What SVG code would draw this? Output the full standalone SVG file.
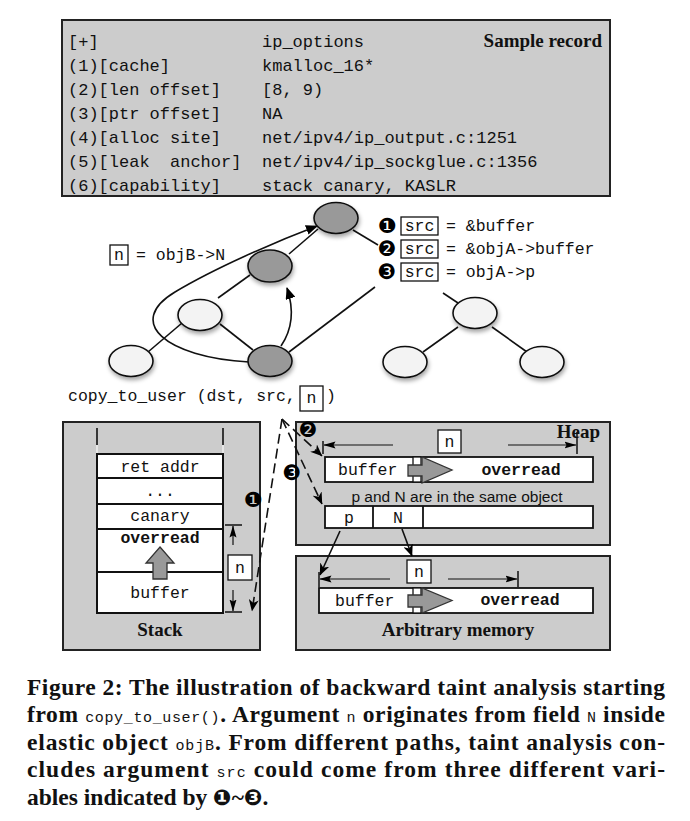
<svg xmlns="http://www.w3.org/2000/svg" width="690" height="821" viewBox="0 0 690 821">
<style>
.box{fill:#cccccc;stroke:#222;stroke-width:2}
.mono{font-family:"Liberation Mono","DejaVu Sans Mono",monospace;font-size:16.5px;fill:#111}
.monob{font-family:"Liberation Mono","DejaVu Sans Mono",monospace;font-size:16.5px;font-weight:bold;fill:#111}
.serifb{font-family:"Liberation Serif","DejaVu Serif",serif;font-weight:bold;fill:#111}
.num{font-family:"DejaVu Sans",sans-serif;font-size:21px;fill:#000}
.light{fill:#f3f3f3;stroke:#111;stroke-width:1.6}
.dark{fill:#999;stroke:#111;stroke-width:1.6}
.edge{stroke:#111;stroke-width:1.6;fill:none}
.cell{fill:#fff;stroke:#111;stroke-width:2}
.dash{stroke:#111;stroke-width:1.6;fill:none;stroke-dasharray:10 5}
.garrow{fill:#999;stroke:#333;stroke-width:1.3}
.lbl{fill:#fff;stroke:#111;stroke-width:1.3}
.cap{font-family:"Liberation Serif","DejaVu Serif",serif;font-weight:bold;font-size:23.5px;fill:#111}
.capc{font-family:"Liberation Mono","DejaVu Sans Mono",monospace;font-weight:normal;font-size:15px}
</style>
<defs>
<filter id="sh" x="-30%" y="-30%" width="160%" height="170%">
<feDropShadow dx="1" dy="3" stdDeviation="2" flood-color="#000" flood-opacity="0.35"/>
</filter>
<marker id="ah" viewBox="0 0 12 10" refX="11" refY="5" markerWidth="12" markerHeight="10" markerUnits="userSpaceOnUse" orient="auto">
<path d="M0,0 L12,5 L0,10 z" fill="#000"/>
</marker>
<marker id="bh" viewBox="0 0 12 10" refX="11.5" refY="5" markerWidth="12" markerHeight="10" markerUnits="userSpaceOnUse" orient="auto">
<path d="M0,0 L12,5 L0,10 L3.5,5 z" fill="#000"/>
</marker>
<marker id="mh" viewBox="0 0 12 8" refX="11.5" refY="4" markerWidth="12" markerHeight="8" markerUnits="userSpaceOnUse" orient="auto">
<path d="M0,0.5 L12,4 L0,7.5 L2,4 z" fill="#000"/>
</marker>
</defs>

<!-- Sample record -->
<g id="sample-record">
<rect class="box" x="62" y="20" width="548" height="176" fill="#cfcfcf"/>
<g class="mono" style="font-size:17px">
<text x="68" y="47">[+]</text>
<text x="262" y="47">ip_options</text>
<text x="68" y="71">(1)[cache]</text>
<text x="262" y="71">kmalloc_16*</text>
<text x="68" y="95">(2)[len offset]</text>
<text x="262" y="95">[8, 9)</text>
<text x="68" y="119">(3)[ptr offset]</text>
<text x="262" y="119">NA</text>
<text x="68" y="143">(4)[alloc site]</text>
<text x="262" y="143">net/ipv4/ip_output.c:1251</text>
<text x="68" y="167" xml:space="preserve">(5)[leak  anchor]</text>
<text x="262" y="167">net/ipv4/ip_sockglue.c:1356</text>
<text x="68" y="191">(6)[capability]</text>
<text x="262" y="191">stack canary, KASLR</text>
</g>
<text class="serifb" x="602" y="47" text-anchor="end" font-size="19">Sample record</text>
</g>

<!-- graph connectors -->
<g id="connectors">
<line class="edge" x1="318" y1="229" x2="289" y2="254"/>
<line class="edge" x1="250" y1="275" x2="218" y2="298"/>
<line class="edge" x1="182" y1="323" x2="148" y2="352"/>
<line class="edge" x1="220" y1="324" x2="253" y2="350"/>
<line class="edge" x1="289" y1="352" x2="375" y2="287"/>
<line class="edge" x1="353" y1="230" x2="378" y2="245"/>
<line class="edge" x1="443" y1="293" x2="458" y2="303"/>
<line class="edge" x1="458" y1="327" x2="423" y2="352"/>
<line class="edge" x1="492" y1="327" x2="527" y2="352"/>
<path class="edge" d="M281,346 C294,327 293,306 287,288" marker-end="url(#ah)"/>
<path class="edge" d="M249,362 C165,357 125,322 175,292 C215,268 275,242 317,226" marker-end="url(#ah)"/>
</g>

<!-- graph nodes -->
<g id="node-top" filter="url(#sh)"><ellipse class="dark" cx="336" cy="218" rx="22" ry="15.5"/></g>
<g id="node-mid" filter="url(#sh)"><ellipse class="dark" cx="270" cy="266" rx="22" ry="16"/></g>
<g id="node-left" filter="url(#sh)"><ellipse class="light" cx="200" cy="315" rx="22" ry="15.5"/></g>
<g id="node-bl" filter="url(#sh)"><ellipse class="light" cx="131" cy="361" rx="22" ry="15.5"/></g>
<g id="node-bottom" filter="url(#sh)"><ellipse class="dark" cx="270" cy="361" rx="22" ry="15.5"/></g>
<g id="node-r-top" filter="url(#sh)"><ellipse class="light" cx="475" cy="313" rx="22" ry="15.5"/></g>
<g id="node-r-left" filter="url(#sh)"><ellipse class="light" cx="405" cy="362" rx="22" ry="15.5"/></g>
<g id="node-r-right" filter="url(#sh)"><ellipse class="light" cx="542" cy="362" rx="22" ry="15.5"/></g>

<!-- labels in graph -->
<g id="label-n">
<rect class="lbl" x="110" y="245" width="18" height="20"/>
<text class="mono" x="119" y="260" text-anchor="middle">n</text>
<text class="mono" x="136" y="260">= objB-&gt;N</text>
</g>
<g id="label-call">
<text class="mono" x="68" y="401">copy_to_user (dst, src,</text>
<rect class="lbl" x="300" y="386" width="23" height="25"/>
<text class="mono" x="311.5" y="403" text-anchor="middle">n</text>
<text class="mono" x="326" y="401">)</text>
</g>
<g id="label-src">
<text class="num" x="387" y="233" text-anchor="middle">❶</text>
<rect class="lbl" x="401" y="217" width="37" height="18"/>
<text class="mono" x="419.5" y="231" text-anchor="middle">src</text>
<text class="mono" x="446" y="231">= &amp;buffer</text>
<text class="num" x="387" y="256" text-anchor="middle">❷</text>
<rect class="lbl" x="401" y="240" width="37" height="18"/>
<text class="mono" x="419.5" y="254" text-anchor="middle">src</text>
<text class="mono" x="446" y="254">= &amp;objA-&gt;buffer</text>
<text class="num" x="387" y="279" text-anchor="middle">❸</text>
<rect class="lbl" x="401" y="263" width="37" height="18"/>
<text class="mono" x="419.5" y="277" text-anchor="middle">src</text>
<text class="mono" x="446" y="277">= objA-&gt;p</text>
</g>

<!-- Stack -->
<g id="stack">
<rect class="box" x="63" y="422" width="197" height="228"/>
<line x1="97" y1="428" x2="97" y2="445" stroke="#111" stroke-width="1.6"/>
<line x1="223" y1="428" x2="223" y2="445" stroke="#111" stroke-width="1.6"/>
<line x1="97" y1="445" x2="97" y2="454" stroke="#eee" stroke-width="1.6"/>
<line x1="223" y1="445" x2="223" y2="454" stroke="#eee" stroke-width="1.6"/>
<rect class="cell" x="97" y="454" width="126" height="24"/>
<rect class="cell" x="97" y="478" width="126" height="26"/>
<rect class="cell" x="97" y="504" width="126" height="25"/>
<rect class="cell" x="97" y="529" width="126" height="43"/>
<rect class="cell" x="97" y="572" width="126" height="41"/>
<text class="mono" x="160" y="472" text-anchor="middle">ret addr</text>
<text class="mono" x="160" y="496" text-anchor="middle">...</text>
<text class="mono" x="160" y="521" text-anchor="middle">canary</text>
<text class="monob" x="160" y="543" text-anchor="middle">overread</text>
<text class="mono" x="160" y="598" text-anchor="middle">buffer</text>
<path class="garrow" d="M160,547 L174,563 L167,563 L167,579 L153,579 L153,563 L146,563 Z"/>
<line x1="225" y1="525" x2="242" y2="525" stroke="#111" stroke-width="1.5"/>
<line x1="225" y1="612" x2="242" y2="612" stroke="#111" stroke-width="1.5"/>
<path class="edge" d="M233,545 L233,526" marker-end="url(#mh)" style="stroke-width:1.2"/>
<path class="edge" d="M233,590 L233,611" marker-end="url(#mh)" style="stroke-width:1.2"/>
<rect class="lbl" x="228" y="555" width="24" height="25"/>
<text class="mono" x="240" y="573" text-anchor="middle">n</text>
<text class="serifb" x="160" y="636" text-anchor="middle" font-size="19">Stack</text>
</g>

<!-- Heap -->
<g id="heap">
<rect class="box" x="296" y="422" width="314" height="123"/>
<text class="serifb" x="600" y="438" text-anchor="end" font-size="19">Heap</text>
<line x1="323" y1="441" x2="323" y2="454" stroke="#111" stroke-width="1.5"/>
<line x1="577" y1="432" x2="577" y2="454" stroke="#111" stroke-width="1.5"/>
<path class="edge" d="M393,445 L324,445" marker-end="url(#mh)" style="stroke-width:1.2"/>
<path class="edge" d="M508,445 L576,445" marker-end="url(#mh)" style="stroke-width:1.2"/>
<rect class="lbl" x="438" y="430" width="23" height="23"/>
<text class="mono" x="449.5" y="447" text-anchor="middle">n</text>
<rect class="cell" x="325" y="457" width="268" height="25" style="stroke-width:1.8"/>
<rect class="cell" x="413" y="457" width="8" height="25" style="stroke-width:1.3"/>
<path class="garrow" d="M408,465 L422,465 L422,457 L452,470 L422,483 L422,476 L408,476 Z"/>
<text class="mono" x="338" y="475">buffer</text>
<text class="monob" x="521" y="475" text-anchor="middle">overread</text>
<text x="457" y="502" text-anchor="middle" font-family="Liberation Sans, Arial, sans-serif" font-size="15.5" fill="#111">p and N are in the same object</text>
<rect class="cell" x="325" y="506" width="268" height="22" style="stroke-width:1.8"/>
<line x1="373" y1="506" x2="373" y2="528" stroke="#111" stroke-width="1.8"/>
<line x1="423" y1="506" x2="423" y2="528" stroke="#111" stroke-width="1.8"/>
<text class="mono" x="349" y="523" text-anchor="middle">p</text>
<text class="mono" x="398" y="523" text-anchor="middle">N</text>
</g>

<!-- Arbitrary memory -->
<g id="arbitrary-memory">
<rect class="box" x="296" y="556" width="314" height="94"/>
<rect class="lbl" x="407" y="560" width="24" height="23"/>
<text class="mono" x="419" y="577" text-anchor="middle">n</text>
<line x1="319" y1="572" x2="319" y2="587" stroke="#111" stroke-width="1.5"/>
<line x1="518" y1="571" x2="518" y2="587" stroke="#111" stroke-width="1.5"/>
<path class="edge" d="M390,579 L320,579" marker-end="url(#mh)" style="stroke-width:1.2"/>
<path class="edge" d="M448,579 L517,579" marker-end="url(#mh)" style="stroke-width:1.2"/>
<rect class="cell" x="319" y="588" width="274" height="25" style="stroke-width:1.8"/>
<rect class="cell" x="413" y="588" width="8" height="25" style="stroke-width:1.3"/>
<path class="garrow" d="M408,595 L422,595 L422,588 L452,600.5 L422,613 L422,607 L408,607 Z"/>
<text class="mono" x="335" y="606">buffer</text>
<text class="monob" x="520" y="605" text-anchor="middle">overread</text>
<text class="serifb" x="458" y="636" text-anchor="middle" font-size="19">Arbitrary memory</text>
</g>

<!-- memory connectors: taint paths and field pointers -->
<g id="memory-connectors">
<path class="dash" d="M282,419 L252,611" marker-end="url(#bh)"/>
<path class="dash" d="M282,419 L322,456" marker-end="url(#bh)"/>
<path class="dash" d="M282,419 L322,504" marker-end="url(#bh)"/>
<path class="edge" d="M340,531 L320,575" marker-end="url(#bh)"/>
<path class="edge" d="M402,529 L412,556" marker-end="url(#bh)"/>
</g>

<!-- taint path markers -->
<g id="markers">
<text class="num" x="253" y="507" text-anchor="middle">❶</text>
<text class="num" x="308" y="437" text-anchor="middle">❷</text>
<text class="num" x="292" y="480" text-anchor="middle">❸</text>
</g>

<!-- caption -->
<g id="caption">
<text class="cap" x="27" y="695" textLength="638" lengthAdjust="spacing">Figure 2: The illustration of backward taint analysis starting</text>
<text class="cap" x="27" y="722" textLength="638" lengthAdjust="spacing">from <tspan class="capc">copy_to_user()</tspan>. Argument <tspan class="capc">n</tspan> originates from field <tspan class="capc">N</tspan> inside</text>
<text class="cap" x="27" y="750" textLength="638" lengthAdjust="spacing">elastic object <tspan class="capc">objB</tspan>. From different paths, taint analysis con-</text>
<text class="cap" x="27" y="777" textLength="638" lengthAdjust="spacing">cludes argument <tspan class="capc">src</tspan> could come from three different vari-</text>
<text class="cap" x="27" y="805">ables indicated by <tspan font-family="DejaVu Sans, sans-serif" font-size="22">❶</tspan>~<tspan font-family="DejaVu Sans, sans-serif" font-size="22">❸</tspan>.</text>
</g>
</svg>
